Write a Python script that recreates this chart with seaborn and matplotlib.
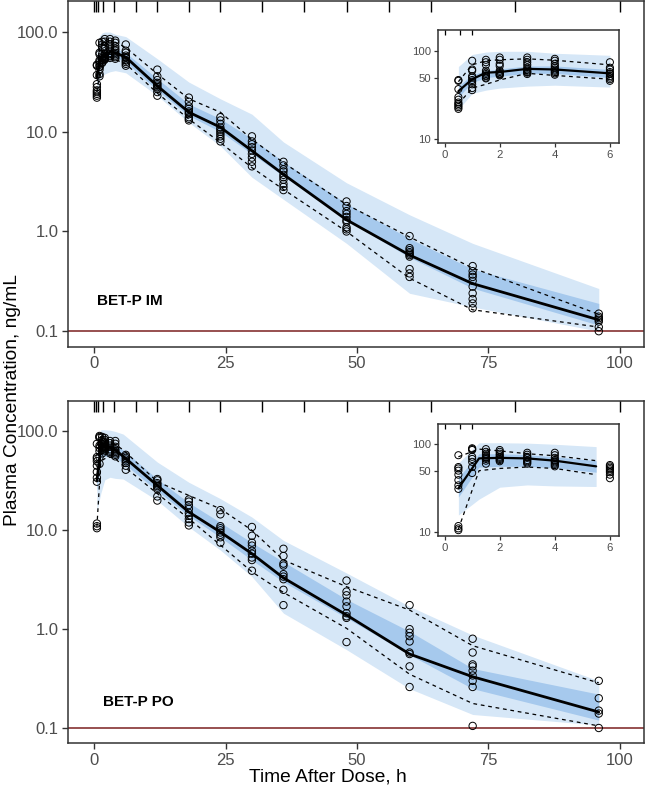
import matplotlib
matplotlib.use('Agg')
import matplotlib.pyplot as plt
import matplotlib.ticker as mticker
import numpy as np
import pandas as pd
import seaborn as sns

sns.set_theme(style='white')
plt.rcParams['font.family'] = ['Liberation Sans', 'DejaVu Sans']

# nominal sampling times (h)
obs_times = [0.5, 1, 1.5, 2, 3, 4, 6, 12, 18, 24, 30, 36, 48, 60, 72, 96]
# bin boundaries shown as marks along the top edge
bin_edges = [0, 0.25, 0.75, 1.75, 3.75, 8, 12, 18, 24, 32, 40, 48, 56, 64, 80, 100]
inset_bin_marks = [0, 0.55, 1.0]

# ---- BET-P IM : observed concentrations per sampling time ----
im_obs = [
    [47, 46, 37, 30, 28, 26, 25, 24, 23, 22],
    [78, 62, 60, 52, 50, 47, 45, 42, 38, 36],
    [80, 75, 70, 60, 57, 55, 53, 52, 50, 49],
    [85, 80, 72, 68, 60, 58, 56, 55, 54, 53],
    [85, 80, 75, 70, 65, 62, 60, 58, 57, 55],
    [82, 78, 72, 68, 65, 62, 60, 58, 56, 54],
    [75, 65, 62, 58, 56, 55, 52, 50, 48, 46],
    [42, 36, 33, 31, 30, 29, 28, 27, 25, 23],
    [22, 20, 18, 17, 16, 15.5, 15, 14, 13.5, 13],
    [14, 13, 12, 11, 10.5, 10, 9.5, 9, 8.5, 8],
    [9, 8, 7.5, 7, 6.5, 6, 5.5, 5, 4.5],
    [5, 4.6, 4.2, 4.0, 3.7, 3.5, 3.3, 3.0, 2.8, 2.6],
    [2.0, 1.8, 1.6, 1.5, 1.4, 1.3, 1.25, 1.1, 1.05, 1.0],
    [0.9, 0.68, 0.65, 0.62, 0.6, 0.58, 0.56, 0.42, 0.38, 0.35],
    [0.45, 0.40, 0.37, 0.35, 0.32, 0.28, 0.24, 0.21, 0.19, 0.17],
    [0.15, 0.14, 0.135, 0.13, 0.125, 0.11, 0.10],
]
im_line_t = [0.5, 1, 1.5, 2, 3, 4, 6, 12, 18, 24, 30, 36, 48, 60, 72, 96]
im_p50 = [35, 48, 57, 58, 63, 62, 56, 28.8, 15.7, 11.1, 6.45, 3.74, 1.31, 0.58, 0.30, 0.130]
im_p95 = [45, 70, 78, 80, 82, 79, 70, 38, 21.4, 15.7, 8.4, 4.9, 1.86, 0.88, 0.43, 0.148]
im_p05 = [25, 38, 42, 47, 56, 53, 48, 24.4, 13.4, 7.8, 4.37, 2.64, 1.0, 0.34, 0.164, 0.110]
im_pi_lo = [21.7, 33, 36, 38, 40, 41, 39, 23, 12.4, 7.2, 3.5, 2.1, 0.76, 0.24, 0.175, 0.10]
im_pi_hi = [67, 92, 98, 100, 100, 95, 90, 54, 31.5, 21.4, 15, 7.9, 3.08, 1.47, 0.76, 0.268]
im_ci_lo = [30, 44, 50, 52, 56, 56, 50, 26, 14.5, 10, 6, 3.6, 1.3, 0.55, 0.27, 0.115]
im_ci_hi = [40, 54, 60, 63, 68, 68, 62, 34, 19, 13.5, 8.5, 5.0, 1.9, 0.85, 0.42, 0.19]

# ---- BET-P PO ----
po_obs = [
    [75, 55, 53, 50, 45, 39, 34, 31, 11.7, 11, 10.5],
    [90, 88, 86, 72, 68, 63, 55, 47],
    [88, 82, 78, 75, 72, 70, 68, 65, 60],
    [86, 82, 78, 75, 72, 70, 68, 66, 64],
    [80, 76, 72, 70, 66, 64, 62, 60],
    [80, 75, 70, 66, 64, 62, 60, 58, 56],
    [58, 56, 54, 52, 50, 48, 45, 41],
    [33, 32, 30, 29, 28, 27, 26, 22, 20],
    [20.5, 19.5, 18, 16.5, 15, 14, 13, 12, 11.2],
    [16, 14.5, 11, 10.5, 10, 9.5, 9, 8.5, 7.5],
    [10.8, 8.8, 7.5, 7, 6.2, 5.8, 5.3, 5, 3.9],
    [6.5, 5.5, 4.6, 4.4, 3.6, 3.4, 3.2, 2.5, 1.75],
    [3.1, 2.4, 2.2, 1.9, 1.7, 1.45, 1.35, 1.3, 0.74],
    [1.75, 1.0, 0.92, 0.85, 0.75, 0.58, 0.56, 0.42, 0.26],
    [0.80, 0.58, 0.44, 0.42, 0.38, 0.34, 0.30, 0.26, 0.105],
    [0.30, 0.20, 0.15, 0.14, 0.10],
]
po_line_t = [0.5, 1.25, 2, 3, 4, 5.5, 12, 18, 24, 30, 36, 48, 60, 72, 96]
po_p50 = [31.5, 69, 70, 69, 65, 56, 28.4, 15.3, 9.6, 5.8, 3.3, 1.39, 0.56, 0.33, 0.145]
po_p95 = [72, 88, 84, 78, 74, 65, 31, 22.5, 16.5, 10, 5.0, 2.69, 1.56, 0.68, 0.286]
po_p05 = [10.8, 50, 53, 55, 53, 45, 23.5, 13.1, 7.1, 3.8, 2.35, 1.02, 0.35, 0.177, 0.105]
po_pi_lo = [15.6, 23.7, 32.4, 34.4, 33.5, 33, 20, 10.8, 6.3, 3.4, 1.45, 0.62, 0.25, 0.137, 0.107]
po_pi_hi = [61, 104, 104, 103, 100, 94, 49, 30.6, 20.9, 13.6, 7.9, 3.7, 1.7, 0.87, 0.30]
po_ci_lo = [25, 55, 56, 56, 54, 48, 25, 14, 8.5, 5.0, 3.0, 1.3, 0.55, 0.25, 0.12]
po_ci_hi = [42, 78, 78, 76, 72, 65, 33, 19, 12, 7.5, 4.8, 2.0, 0.95, 0.40, 0.22]

LIGHT = '#d6e7f7'
DARK = '#a6c9ed'
FRAME = '#333333'
TICKLAB = '#4d4d4d'


def obs_frame(obs):
    rows = [(t, v) for t, vals in zip(obs_times, obs) for v in vals]
    return pd.DataFrame(rows, columns=['time', 'conc'])


def draw_vpc(ax, obs, line_t, p05, p50, p95, pi_lo, pi_hi, ci_lo, ci_hi,
             tmax=None, lw_med=2.0, ms=28):
    d = pd.DataFrame(dict(t=line_t, p05=p05, p50=p50, p95=p95,
                          lo=pi_lo, hi=pi_hi, clo=ci_lo, chi=ci_hi))
    o = obs_frame(obs)
    if tmax is not None:
        d = d[d.t <= tmax]
        o = o[o.time <= tmax]
    ax.fill_between(d.t, d.lo, d.hi, color=LIGHT, lw=0, zorder=1)
    ax.fill_between(d.t, d.clo, d.chi, color=DARK, lw=0, zorder=1)
    sns.lineplot(x=d.t.values, y=d.p50.values, ax=ax, color='black',
                 linewidth=lw_med, zorder=3)
    for col in ['p05', 'p95']:
        sns.lineplot(x=d.t.values, y=d[col].values, ax=ax, color='black',
                     linewidth=0.9, linestyle=(0, (3, 3)), zorder=3)
    sns.scatterplot(data=o, x='time', y='conc', ax=ax, marker='o', s=ms,
                    facecolors='none', edgecolor='black', linewidth=0.7, zorder=4)
    ax.set_yscale('log')
    ax.yaxis.set_minor_locator(mticker.NullLocator())
    ax.set_xlabel('')
    ax.set_ylabel('')
    for sp in ax.spines.values():
        sp.set_visible(True)
        sp.set_color(FRAME)
        sp.set_linewidth(1.1)


def style_main(ax, label, label_xy):
    ax.set_xlim(-5, 104.6)
    ax.set_ylim(0.07, 205)
    ax.set_yticks([0.1, 1, 10, 100])
    ax.set_yticklabels(['0.1', '1.0', '10.0', '100.0'])
    ax.set_xticks([0, 25, 50, 75, 100])
    ax.tick_params(axis='both', direction='out', length=4, width=1, color=FRAME,
                   labelcolor=TICKLAB, labelsize=12, pad=3,
                   left=True, bottom=True, top=False, right=False)
    ax.axhline(0.1, color='#7a1f1f', lw=1.1, zorder=2)
    ax.vlines(bin_edges, 0.968, 1.0, transform=ax.get_xaxis_transform(),
              color='black', lw=1, zorder=5)
    ax.text(label_xy[0], label_xy[1], label, fontsize=11, fontweight='bold',
            va='center', ha='left', color='black')


def style_inset(ax, ylim):
    ax.set_xlim(-0.23, 6.34)
    ax.set_ylim(*ylim)
    ax.set_yticks([10, 50, 100])
    ax.set_yticklabels(['10', '50', '100'])
    ax.set_xticks([0, 2, 4, 6])
    ax.tick_params(axis='both', direction='out', length=3, width=0.9, color=FRAME,
                   labelcolor=TICKLAB, labelsize=8.2, pad=2,
                   left=True, bottom=True, top=False, right=False)
    ax.vlines(inset_bin_marks, 0.955, 1.0, transform=ax.get_xaxis_transform(),
              color='black', lw=0.9, zorder=5)


fig = plt.figure(figsize=(6.45, 7.96), dpi=100)
fig.patch.set_facecolor('white')

ax1 = fig.add_axes([0.1054, 0.5645, 0.893, 0.4343])
draw_vpc(ax1, im_obs, im_line_t, im_p05, im_p50, im_p95, im_pi_lo, im_pi_hi, im_ci_lo, im_ci_hi)
style_main(ax1, 'BET-P IM', (0.5, 0.2))

ax2 = fig.add_axes([0.1054, 0.0662, 0.893, 0.4305])
draw_vpc(ax2, po_obs, po_line_t, po_p05, po_p50, po_p95, po_pi_lo, po_pi_hi, po_ci_lo, po_ci_hi)
style_main(ax2, 'BET-P PO', (1.6, 0.185))

in1 = fig.add_axes([0.6795, 0.82, 0.2806, 0.1423])
draw_vpc(in1, im_obs, im_line_t, im_p05, im_p50, im_p95, im_pi_lo, im_pi_hi, im_ci_lo, im_ci_hi,
         tmax=6.01, lw_med=1.6, ms=26)
style_inset(in1, (8.9, 175))

in2 = fig.add_axes([0.6795, 0.3266, 0.2806, 0.1407])
draw_vpc(in2, po_obs, po_line_t, po_p05, po_p50, po_p95, po_pi_lo, po_pi_hi, po_ci_lo, po_ci_hi,
         tmax=6.01, lw_med=1.6, ms=26)
style_inset(in2, (9.0, 170))

fig.text(0.019, 0.497, 'Plasma Concentration, ng/mL', rotation=90, fontsize=13.8,
         va='center', ha='center', color='black')
fig.text(0.508, 0.024, 'Time After Dose, h', fontsize=13.8, va='center', ha='center',
         color='black')

fig.savefig('out.png', dpi=100)
